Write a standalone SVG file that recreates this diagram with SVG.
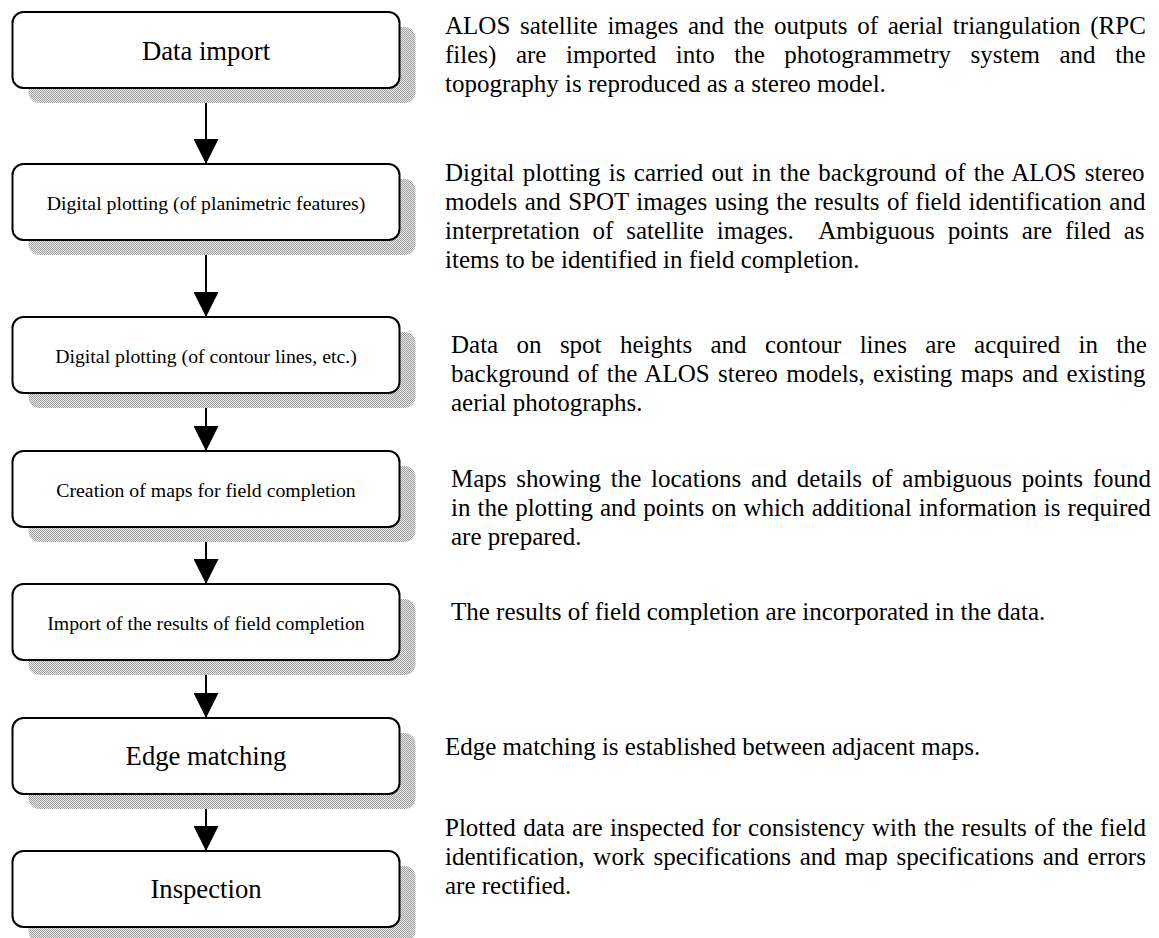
<svg xmlns="http://www.w3.org/2000/svg" width="1159" height="938" viewBox="0 0 1159 938">
<style>
.box{fill:#fff;stroke:#000;stroke-width:2}
.shadow{fill:url(#dots);stroke:none}
.lbl{font-family:"Liberation Serif","Times New Roman",serif;fill:#000;text-anchor:middle}
.big{font-size:26.7px}
.small{font-size:19.8px}
.desc{font-family:"Liberation Serif","Times New Roman",serif;font-size:25px;fill:#000}
.conn{stroke:#000;stroke-width:2;fill:none;marker-end:url(#arrow)}
</style>
<defs>
<pattern id="dots" width="2" height="2" patternUnits="userSpaceOnUse">
<rect width="2" height="2" fill="#ededed"/>
<rect x="0" y="0" width="1" height="1" fill="#9a9a9a"/>
<rect x="1" y="1" width="1" height="1" fill="#9a9a9a"/>
</pattern>
<marker id="arrow" markerUnits="userSpaceOnUse" viewBox="0 0 25 25" refX="25" refY="12.5" markerWidth="25" markerHeight="25" orient="auto">
<path d="M0,0 L25,12.5 L0,25 z" fill="#000"/>
</marker>
</defs>
<rect width="1159" height="938" fill="#fff"/>

<g id="connectors">
<line class="conn" x1="206" y1="88" x2="206" y2="164"/>
<line class="conn" x1="206" y1="240" x2="206" y2="317"/>
<line class="conn" x1="206" y1="393" x2="206" y2="451"/>
<line class="conn" x1="206" y1="527" x2="206" y2="584"/>
<line class="conn" x1="206" y1="660" x2="206" y2="718"/>
<line class="conn" x1="206" y1="794" x2="206" y2="851"/>
</g>

<g id="n1">
<rect class="shadow" x="28.5" y="27" width="387" height="76" rx="11"/>
<rect class="box" x="12.5" y="12" width="387" height="76" rx="11"/>
<text class="lbl big" x="206" y="60">Data import</text>
</g>
<g id="n2">
<rect class="shadow" x="28.5" y="179" width="387" height="76" rx="11"/>
<rect class="box" x="12.5" y="164" width="387" height="76" rx="11"/>
<text class="lbl small" x="206" y="210">Digital plotting (of planimetric features)</text>
</g>
<g id="n3">
<rect class="shadow" x="28.5" y="332" width="387" height="76" rx="11"/>
<rect class="box" x="12.5" y="317" width="387" height="76" rx="11"/>
<text class="lbl small" x="206" y="363">Digital plotting (of contour lines, etc.)</text>
</g>
<g id="n4">
<rect class="shadow" x="28.5" y="466" width="387" height="76" rx="11"/>
<rect class="box" x="12.5" y="451" width="387" height="76" rx="11"/>
<text class="lbl small" x="206" y="497">Creation of maps for field completion</text>
</g>
<g id="n5">
<rect class="shadow" x="28.5" y="599" width="387" height="76" rx="11"/>
<rect class="box" x="12.5" y="584" width="387" height="76" rx="11"/>
<text class="lbl small" x="206" y="630">Import of the results of field completion</text>
</g>
<g id="n6">
<rect class="shadow" x="28.5" y="733" width="387" height="76" rx="11"/>
<rect class="box" x="12.5" y="718" width="387" height="76" rx="11"/>
<text class="lbl big" x="206" y="765">Edge matching</text>
</g>
<g id="n7">
<rect class="shadow" x="28.5" y="866" width="387" height="76" rx="11"/>
<rect class="box" x="12.5" y="851" width="387" height="76" rx="11"/>
<text class="lbl big" x="206" y="898">Inspection</text>
</g>

<g id="descriptions">
<text class="desc" x="445" y="34" style="word-spacing:3.43px">ALOS satellite images and the outputs of aerial triangulation (RPC</text>
<text class="desc" x="445" y="63" style="word-spacing:13.3px">files) are imported into the photogrammetry system and the</text>
<text class="desc" x="445" y="92">topography is reproduced as a stereo model.</text>

<text class="desc" x="445" y="181" style="word-spacing:2.05px">Digital plotting is carried out in the background of the ALOS stereo</text>
<text class="desc" x="445" y="210" style="word-spacing:1.21px">models and SPOT images using the results of field identification and</text>
<text class="desc" x="445" y="239" xml:space="preserve" style="word-spacing:6.6px;white-space:pre">interpretation of satellite images.  Ambiguous points are filed as</text>
<text class="desc" x="445" y="268">items to be identified in field completion.</text>

<text class="desc" x="451" y="353" style="word-spacing:12.1px">Data on spot heights and contour lines are acquired in the</text>
<text class="desc" x="451" y="382" style="word-spacing:2.19px">background of the ALOS stereo models, existing maps and existing</text>
<text class="desc" x="451" y="411">aerial photographs.</text>

<text class="desc" x="451" y="487" style="word-spacing:3.48px">Maps showing the locations and details of ambiguous points found</text>
<text class="desc" x="451" y="516" style="word-spacing:0.83px">in the plotting and points on which additional information is required</text>
<text class="desc" x="451" y="545">are prepared.</text>

<text class="desc" x="451" y="620">The results of field completion are incorporated in the data.</text>

<text class="desc" x="445" y="755">Edge matching is established between adjacent maps.</text>

<text class="desc" x="445" y="836" style="word-spacing:1.05px">Plotted data are inspected for consistency with the results of the field</text>
<text class="desc" x="445" y="865" style="word-spacing:2.54px">identification, work specifications and map specifications and errors</text>
<text class="desc" x="445" y="894">are rectified.</text>
</g>
</svg>
